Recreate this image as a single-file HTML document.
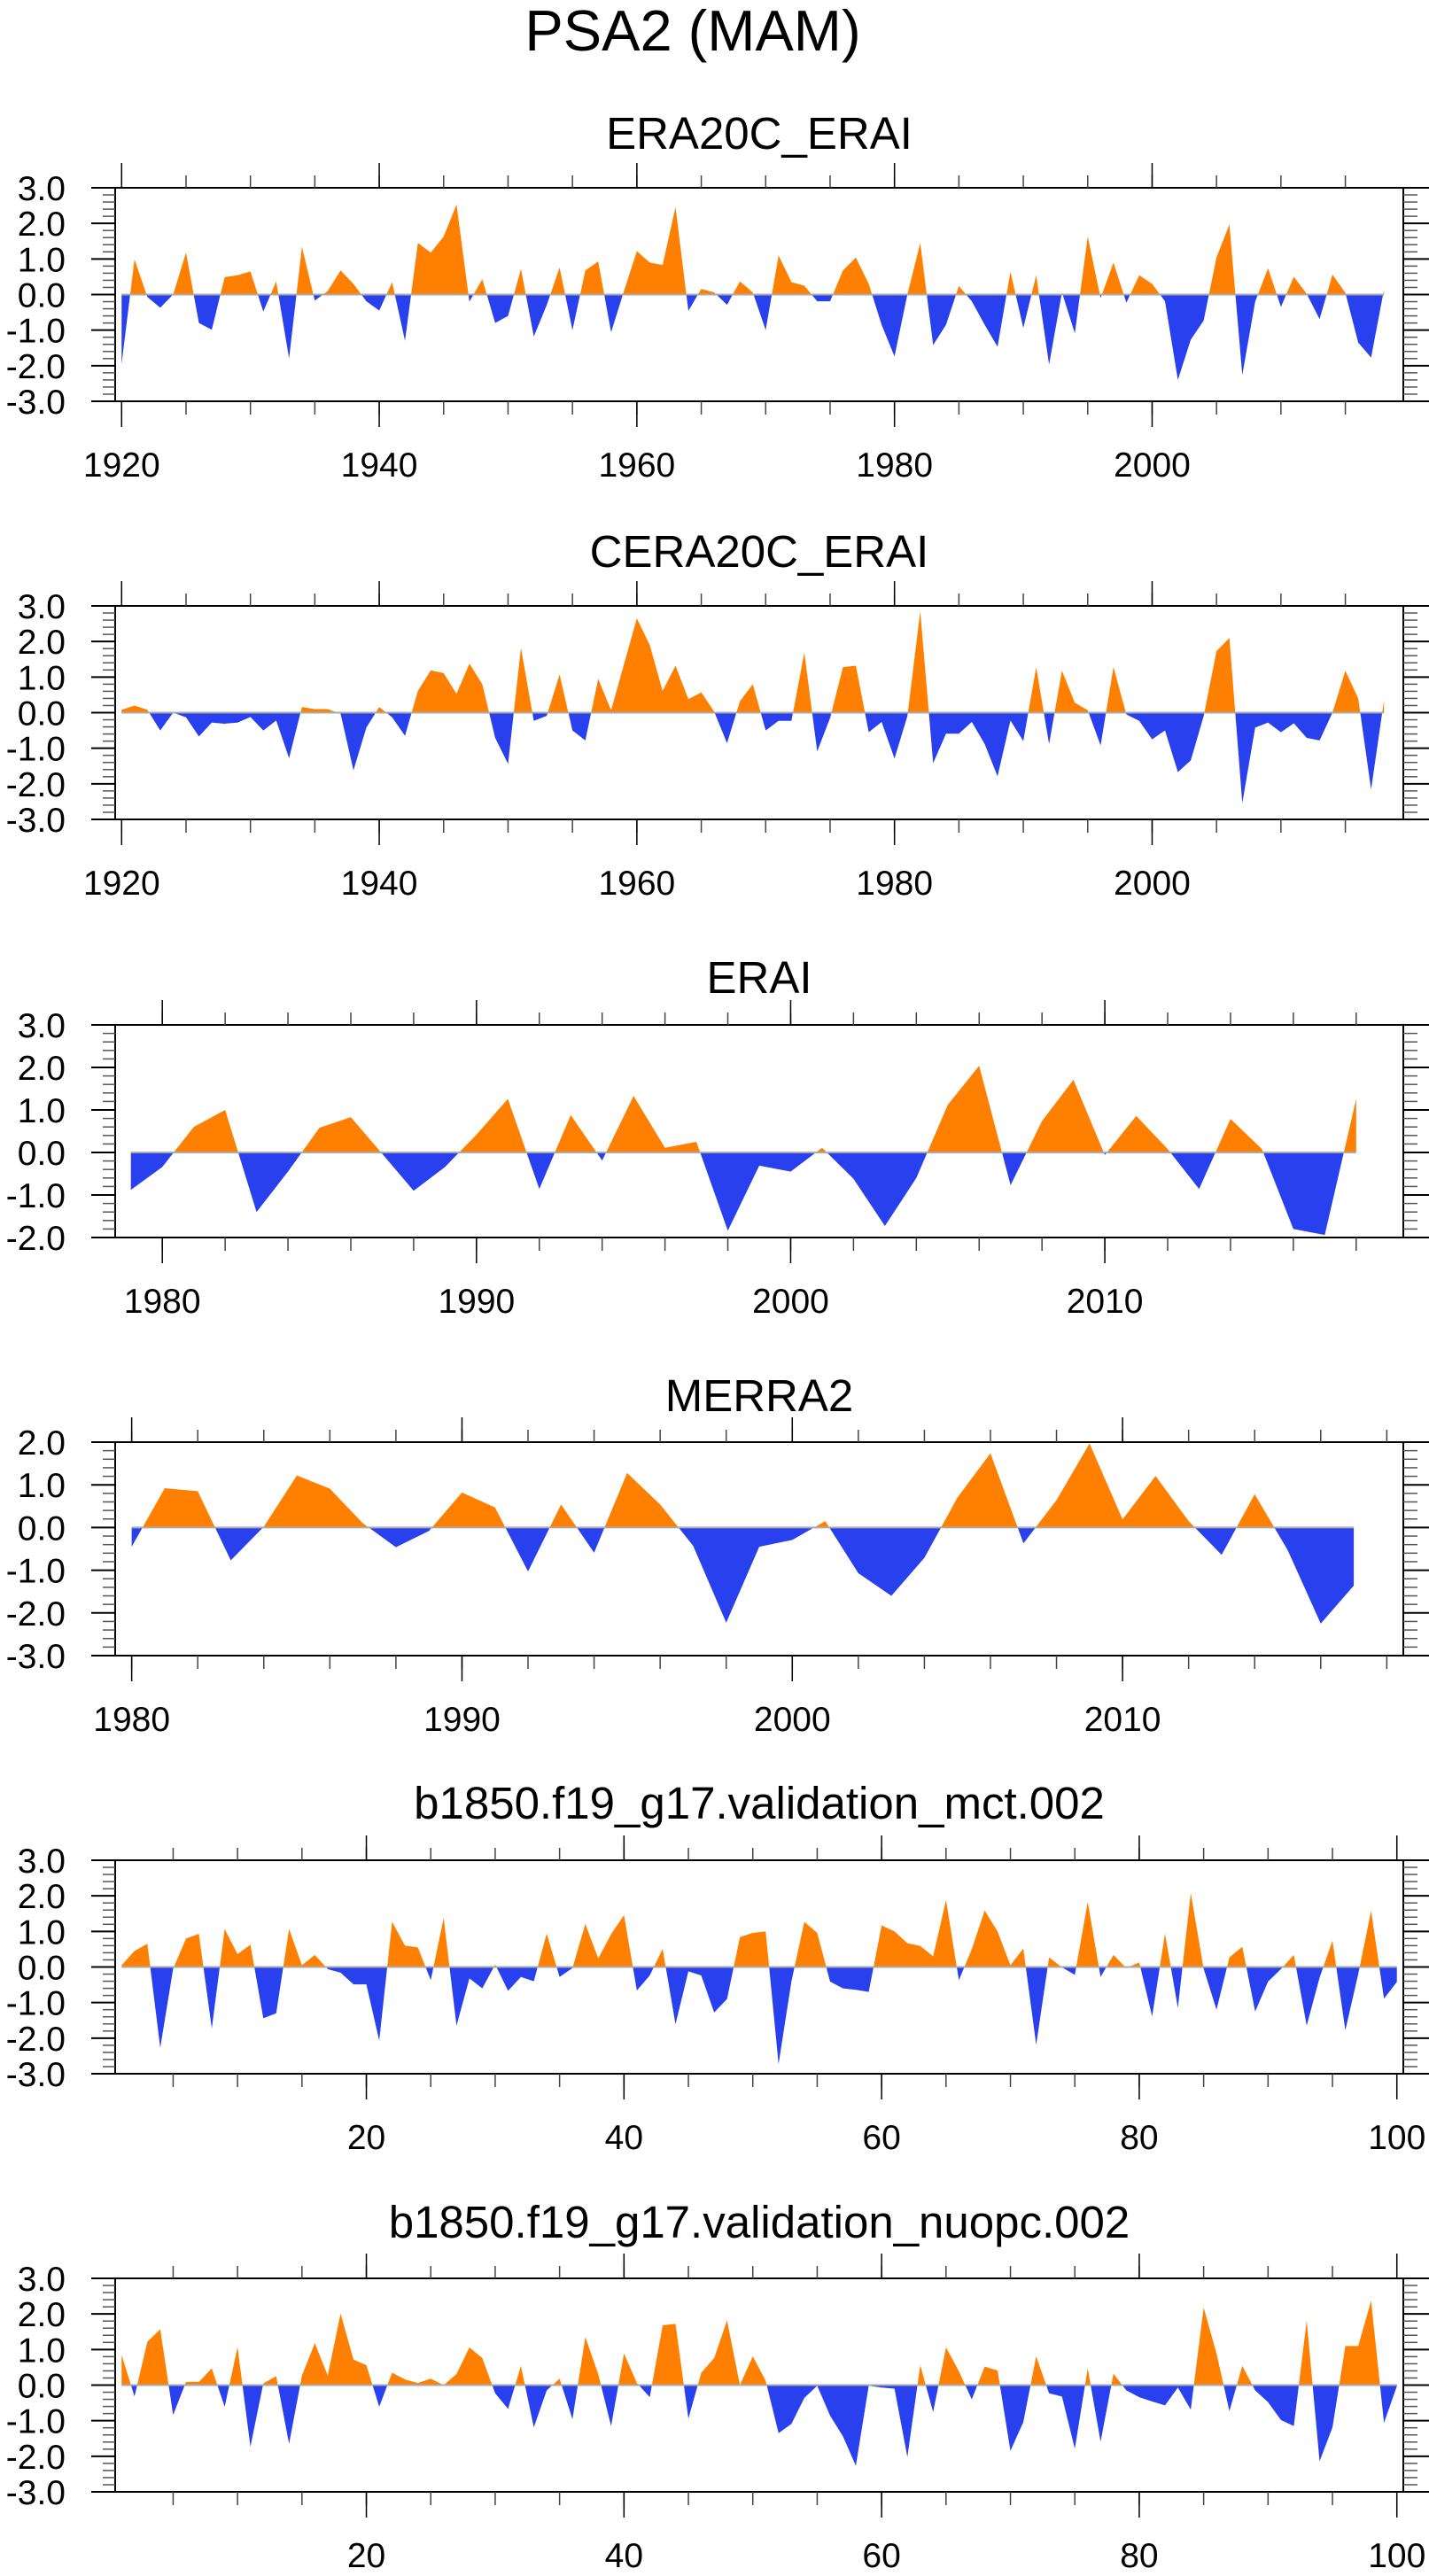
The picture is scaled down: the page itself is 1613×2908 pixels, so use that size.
<!DOCTYPE html>
<html><head><meta charset="utf-8"><style>
html,body{margin:0;padding:0;background:#fff;}
svg{display:block;font-family:"Liberation Sans",sans-serif;}
</style></head><body>
<svg id="chart" width="1613" height="2908" viewBox="0 0 1613 2908" xmlns="http://www.w3.org/2000/svg">
<text x="782" y="57" font-size="65" text-anchor="middle">PSA2 (MAM)</text>
</svg>
<script>
const era20cYears = [1920, 2018];
const era20cValues = [-1.95,0.99,-0.07,-0.37,0.0,1.18,-0.8,-0.99,0.49,0.54,0.65,-0.48,0.37,-1.8,1.34,-0.17,0.1,0.68,0.3,-0.19,-0.45,0.35,-1.3,1.45,1.18,1.63,2.53,-0.2,0.43,-0.8,-0.6,0.72,-1.18,-0.3,0.76,-1.0,0.68,0.93,-1.06,0.1,1.22,0.9,0.83,2.46,-0.46,0.16,0.06,-0.29,0.37,0.06,-1.0,1.1,0.35,0.25,-0.19,-0.19,0.68,1.04,0.3,-0.85,-1.74,0.0,1.45,-1.42,-0.85,0.24,-0.19,-0.85,-1.47,0.64,-0.94,0.54,-1.97,0.06,-1.09,1.63,-0.1,0.9,-0.23,0.54,0.3,-0.19,-2.4,-1.27,-0.73,1.05,1.97,-2.26,-0.2,0.74,-0.35,0.5,0.02,-0.69,0.56,0.05,-1.35,-1.77,0.14];
const cera20cValues = [0.08,0.2,0.08,-0.5,0.0,-0.13,-0.67,-0.28,-0.31,-0.28,-0.12,-0.5,-0.22,-1.28,0.16,0.1,0.1,-0.03,-1.62,-0.42,0.16,-0.13,-0.65,0.61,1.19,1.11,0.53,1.38,0.8,-0.71,-1.44,1.82,-0.23,-0.09,1.07,-0.5,-0.78,0.95,0.07,1.36,2.65,1.9,0.61,1.32,0.38,0.57,0.03,-0.86,0.32,0.8,-0.5,-0.23,-0.23,1.69,-1.09,-0.15,1.28,1.32,-0.55,-0.26,-1.29,-0.1,2.85,-1.42,-0.59,-0.59,-0.26,-0.88,-1.79,-0.22,-0.8,1.28,-0.88,1.18,0.28,0.07,-0.92,1.28,-0.05,-0.23,-0.75,-0.5,-1.67,-1.34,-0.1,1.73,2.1,-2.54,-0.42,-0.28,-0.55,-0.3,-0.71,-0.78,0.0,1.18,0.4,-2.16,0.35];
const eraiYears = [1979, 2018];
const eraiValues = [-0.88,-0.34,0.6,1.0,-1.4,-0.45,0.58,0.83,-0.03,-0.9,-0.34,0.42,1.26,-0.86,0.88,-0.19,1.33,0.11,0.25,-1.84,-0.31,-0.45,0.11,-0.62,-1.73,-0.6,1.12,2.04,-0.77,0.74,1.71,-0.06,0.86,0.08,-0.86,0.79,0.08,-1.8,-1.94,1.26];
const merraYears = [1980, 2017];
const merraValues = [-0.45,0.92,0.85,-0.77,0.02,1.22,0.91,0.1,-0.46,-0.08,0.82,0.47,-1.03,0.54,-0.59,1.28,0.54,-0.43,-2.23,-0.45,-0.29,0.15,-1.07,-1.6,-0.71,0.7,1.74,-0.37,0.64,1.97,0.19,1.21,0.15,-0.64,0.78,-0.53,-2.25,-1.36];
const mctYears = [1, 100];
const mctValues = [0.05,0.45,0.65,-2.27,-0.05,0.8,0.93,-1.73,1.07,0.36,0.63,-1.44,-1.3,1.07,0.05,0.34,-0.06,-0.16,-0.49,-0.49,-2.07,1.27,0.6,0.55,-0.37,1.38,-1.65,-0.32,-0.6,0.07,-0.67,-0.28,-0.4,0.94,-0.28,-0.03,1.21,0.24,0.92,1.46,-0.66,-0.24,0.51,-1.61,-0.12,-0.24,-1.28,-0.9,0.84,0.96,1.0,-2.73,-0.4,1.27,0.96,-0.41,-0.6,-0.64,-0.7,1.17,1.0,0.67,0.59,0.3,1.88,-0.37,0.5,1.59,1.0,0.05,0.52,-2.19,0.27,-0.01,-0.22,1.83,-0.28,0.34,-0.03,0.13,-1.39,0.94,-1.15,2.08,-0.05,-1.2,0.27,0.57,-1.25,-0.41,-0.06,0.34,-1.65,-0.3,0.74,-1.78,-0.2,1.58,-0.89,-0.42];
const nuopcValues = [0.85,-0.32,1.22,1.57,-0.84,0.09,0.09,0.47,-0.61,1.07,-1.73,0.05,0.25,-1.65,0.27,1.18,0.27,2.01,0.72,0.56,-0.61,0.35,0.16,0.06,0.18,0.0,0.31,1.06,0.76,-0.23,-0.67,0.54,-1.19,-0.15,0.18,-0.96,1.35,0.31,-1.15,0.89,0.06,-0.34,1.68,1.72,-0.94,0.35,0.76,1.82,0.0,0.81,0.12,-1.35,-1.09,-0.36,-0.02,-0.86,-1.44,-2.27,-0.02,-0.07,-0.1,-2.02,0.56,-0.76,1.06,0.39,-0.4,0.52,0.41,-1.85,-1.04,0.81,-0.23,-0.32,-1.79,0.47,-1.59,0.32,-0.15,-0.34,-0.46,-0.57,-0.07,-0.69,2.18,0.89,-0.73,0.54,-0.15,-0.48,-0.98,-1.15,1.82,-2.14,-1.19,1.1,1.1,2.37,-1.06,-0.03];
const panelTitles = ["ERA20C_ERAI","CERA20C_ERAI","ERAI","MERRA2","b1850.f19_g17.validation_mct.002","b1850.f19_g17.validation_nuopc.002"];

const NS = "http://www.w3.org/2000/svg";
const svg = document.getElementById('chart');
const L = 130, R = 1584;
function mk(tag, attrs, parent) {
  const e = document.createElementNS(NS, tag);
  for (const k in attrs) e.setAttribute(k, attrs[k]);
  (parent || svg).appendChild(e);
  return e;
}
const panels = [
  {title: panelTitles[0], slug:'era20c-erai', start: era20cYears[0], vals: era20cValues, xmin:1919.5, xmax:2019.5, ymin:-3, ymax:3, top:212, bot:453, tb:168, maj:[1920,2000,20], min:[1920,2015,5]},
  {title: panelTitles[1], slug:'cera20c-erai', start: era20cYears[0], vals: cera20cValues, xmin:1919.5, xmax:2019.5, ymin:-3, ymax:3, top:684, bot:925, tb:640, maj:[1920,2000,20], min:[1920,2015,5]},
  {title: panelTitles[2], slug:'erai', start: eraiYears[0], vals: eraiValues, xmin:1978.5, xmax:2019.5, ymin:-2, ymax:3, top:1157, bot:1397, tb:1121, maj:[1980,2010,10], min:[1980,2018,2]},
  {title: panelTitles[3], slug:'merra2', start: merraYears[0], vals: merraValues, xmin:1979.5, xmax:2018.5, ymin:-3, ymax:2, top:1628, bot:1869, tb:1593, maj:[1980,2010,10], min:[1980,2018,2]},
  {title: panelTitles[4], slug:'mct', start: mctYears[0], vals: mctValues, xmin:0.5, xmax:100.5, ymin:-3, ymax:3, top:2100, bot:2341, tb:2053, maj:[20,100,20], min:[5,100,5]},
  {title: panelTitles[5], slug:'nuopc', start: mctYears[0], vals: nuopcValues, xmin:0.5, xmax:100.5, ymin:-3, ymax:3, top:2572, bot:2813, tb:2526, maj:[20,100,20], min:[5,100,5]}
];
panels.forEach((p, pi) => {
  const g = mk('g', {});
  
  
  const X = v => L + (v - p.xmin) / (p.xmax - p.xmin) * (R - L);
  const Y = v => p.top + (p.ymax - v) / (p.ymax - p.ymin) * (p.bot - p.top);
  const t = mk('text', {x: 857, y: p.tb, 'font-size': 51, 'text-anchor': 'middle'}, g);
  t.textContent = p.title;
  
  
  const y0 = Y(0);
  const defs = mk('defs', {}, g);
  const cpA = mk('clipPath', {id: 'ca' + pi}, defs);
  mk('rect', {x: L, y: p.top, width: R - L, height: y0 - p.top}, cpA);
  const cpB = mk('clipPath', {id: 'cb' + pi}, defs);
  mk('rect', {x: L, y: y0, width: R - L, height: p.bot - y0}, cpB);
  let d = 'M' + X(p.start) + ',' + y0;
  p.vals.forEach((v, i) => { d += ' L' + X(p.start + i).toFixed(2) + ',' + Y(v).toFixed(2); });
  d += ' L' + X(p.start + p.vals.length - 1) + ',' + y0 + ' Z';
  const pos = mk('path', {d: d, fill: '#ff8000', 'clip-path': 'url(#ca' + pi + ')'}, g);
  
  
  const neg = mk('path', {d: d, fill: '#2840ee', 'clip-path': 'url(#cb' + pi + ')'}, g);
  
  
  const zl = mk('line', {x1: X(p.start), x2: X(p.start + p.vals.length - 1), y1: y0, y2: y0, stroke: '#aaa', 'stroke-width': 2}, g);
  
  
  const fr = mk('rect', {x: L, y: p.top, width: R - L, height: p.bot - p.top, fill: 'none', stroke: '#000', 'stroke-width': 2}, g);
  
  
  for (let v = p.ymin; v <= p.ymax + 1e-6; v += 1) {
    const y = Y(v);
    mk('line', {x1: 103, x2: L, y1: y, y2: y, stroke: '#000', 'stroke-width': 2}, g);
    mk('line', {x1: R, x2: 1613, y1: y, y2: y, stroke: '#000', 'stroke-width': 2}, g);
    const lb = mk('text', {x: 74, y: y + 14, 'font-size': 39, 'text-anchor': 'end'}, g);
    lb.textContent = v.toFixed(1);
    
    
  }
  for (let k = Math.round(p.ymin * 5); k <= Math.round(p.ymax * 5); k++) {
    if (k % 5 === 0) continue;
    const y = Y(k / 5);
    mk('line', {x1: L - 14, x2: L, y1: y, y2: y, stroke: '#555', 'stroke-width': 1.5}, g);
    mk('line', {x1: R, x2: R + 16, y1: y, y2: y, stroke: '#555', 'stroke-width': 1.5}, g);
  }
  for (let v = p.min[0]; v <= p.min[1]; v += p.min[2]) {
    const x = X(v);
    mk('line', {x1: x, x2: x, y1: p.top - 14, y2: p.top, stroke: '#444', 'stroke-width': 1.5}, g);
    mk('line', {x1: x, x2: x, y1: p.bot, y2: p.bot + 15, stroke: '#444', 'stroke-width': 1.5}, g);
  }
  for (let v = p.maj[0]; v <= p.maj[1]; v += p.maj[2]) {
    const x = X(v);
    mk('line', {x1: x, x2: x, y1: p.top - 28, y2: p.top, stroke: '#000', 'stroke-width': 1.5}, g);
    mk('line', {x1: x, x2: x, y1: p.bot, y2: p.bot + 29, stroke: '#000', 'stroke-width': 1.5}, g);
    const lb = mk('text', {x: x, y: p.bot + 85, 'font-size': 39, 'text-anchor': 'middle'}, g);
    lb.textContent = String(v);
    
    
  }
});
</script>
</body></html>
